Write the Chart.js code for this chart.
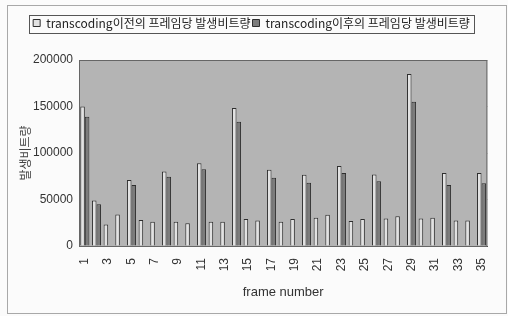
<!DOCTYPE html>
<html>
<head>
<meta charset="utf-8">
<script src="https://cdn.jsdelivr.net/npm/chart.js@4"></script>
<style>
  html, body { margin: 0; padding: 0; background: #fbfbfb; }
  #wrap { width: 508px; height: 316px; position: relative; }
</style>
</head>
<body>
<div id="wrap"><canvas id="chart" width="508" height="316"></canvas></div>
<script>
const frames = Array.from({ length: 35 }, (_, i) => String(i + 1));
const beforeLabel = "transcoding이전의 프레임당 발생비트량";
const afterLabel = "transcoding이후의 프레임당 발생비트량";
const beforeBits = [
  150000, 49000, 23000, 34000, 71000, 28000, 26000, 80000, 26000, 24500,
  89000, 26000, 26000, 148500, 29000, 27500, 82000, 26000, 29000, 76500,
  30500, 33500, 86000, 27000, 29000, 77000, 29500, 32000, 185000, 29500,
  30500, 78500, 27500, 27500, 78500
];
const afterBits = [
  139000, 45000, 0, 0, 65500, 0, 0, 74500, 0, 0,
  82500, 0, 0, 133500, 0, 0, 73500, 0, 0, 68000,
  0, 0, 78500, 0, 0, 69500, 0, 0, 155000, 0,
  0, 65500, 0, 0, 67500
];
const yTicks = [0, 50000, 100000, 150000, 200000];

const tickFont = { family: "'Liberation Sans', Arial, sans-serif", size: 12 };

const frameDeco = {
  id: "frameDeco",
  beforeUpdate(chart) {
    const lg = chart.legend;
    if (lg && !lg._patched) {
      const fit = lg.fit;
      lg.fit = function () { fit.call(this); this.height = 45; };
      lg._patched = true;
    }
  },
  beforeDatasetsDraw(chart) {
    const { ctx, chartArea: a } = chart;
    ctx.save();
    ctx.fillStyle = "#b4b4b4";
    ctx.fillRect(a.left, a.top, a.right - a.left, a.bottom - a.top);
    ctx.restore();
  },
  afterDraw(chart) {
    const { ctx, chartArea: a } = chart;
    ctx.save();
    ctx.strokeStyle = "#666";
    ctx.lineWidth = 1;
    ctx.strokeRect(a.left + 0.5, a.top + 0.5, a.right - a.left - 1, a.bottom - a.top);
    // legend box
    const boxes = chart.legend.legendHitBoxes;
    if (boxes && boxes.length) {
      const l = Math.min(...boxes.map(b => b.left)) - 4;
      const r = Math.max(...boxes.map(b => b.left + b.width)) + 4;
      ctx.strokeStyle = "#555";
      ctx.strokeRect(Math.round(l) + 0.5, 15.5, Math.round(r - l), 18);
    }
    // outer chart border
    ctx.strokeStyle = "#a8a8a8";
    ctx.strokeRect(7.5, 5.5, 499, 308);
    ctx.restore();
  }
};

new Chart(document.getElementById("chart"), {
  type: "bar",
  data: {
    labels: frames,
    datasets: [
      {
        label: beforeLabel,
        data: beforeBits,
        backgroundColor: "#e2e2e2",
        borderColor: "#2e2e2e",
        borderWidth: 1
      },
      {
        label: afterLabel,
        data: afterBits,
        backgroundColor: "#7c7c7c",
        borderColor: "#2e2e2e",
        borderWidth: 1
      }
    ]
  },
  options: {
    responsive: false,
    animation: false,
    devicePixelRatio: 1,
    layout: { padding: { top: 15, right: 5, bottom: 0, left: 0 } },
    datasets: { bar: { categoryPercentage: 0.78, barPercentage: 1 } },
    plugins: {
      tooltip: { enabled: false },
      legend: {
        position: "top",
        labels: {
          boxWidth: 7,
          boxHeight: 7,
          padding: 2,
          color: "#222",
          font: { family: "'Noto Sans CJK KR', 'Liberation Sans', sans-serif", size: 12 }
        }
      }
    },
    scales: {
      x: {
        grid: { display: false, drawTicks: false },
        border: { display: true, color: "#444" },
        ticks: {
          autoSkip: false,
          minRotation: 90,
          maxRotation: 90,
          padding: 12,
          color: "#333",
          font: tickFont,
          callback: (v, i) => (i % 2 === 0 ? frames[i] : "")
        },
        title: {
          display: true,
          text: "frame number",
          color: "#333",
          font: { family: "'Liberation Sans', Arial, sans-serif", size: 13 },
          padding: { top: 0, bottom: 16 }
        },
        afterFit(s) { s.height = 70; }
      },
      y: {
        min: yTicks[0],
        max: yTicks[yTicks.length - 1],
        grid: { color: "#7d7d7d", drawTicks: false },
        border: { display: true, color: "#444" },
        ticks: {
          stepSize: yTicks[1] - yTicks[0],
          padding: 6,
          color: "#333",
          font: tickFont,
          callback: v => String(v)
        },
        title: {
          display: true,
          text: "발생비트량",
          color: "#444",
          font: { family: "'Noto Sans CJK KR', sans-serif", size: 12 },
          padding: { top: 18, bottom: 0 }
        },
        afterFit(s) { s.width = 79; }
      }
    }
  },
  plugins: [frameDeco]
});
</script>
</body>
</html>
